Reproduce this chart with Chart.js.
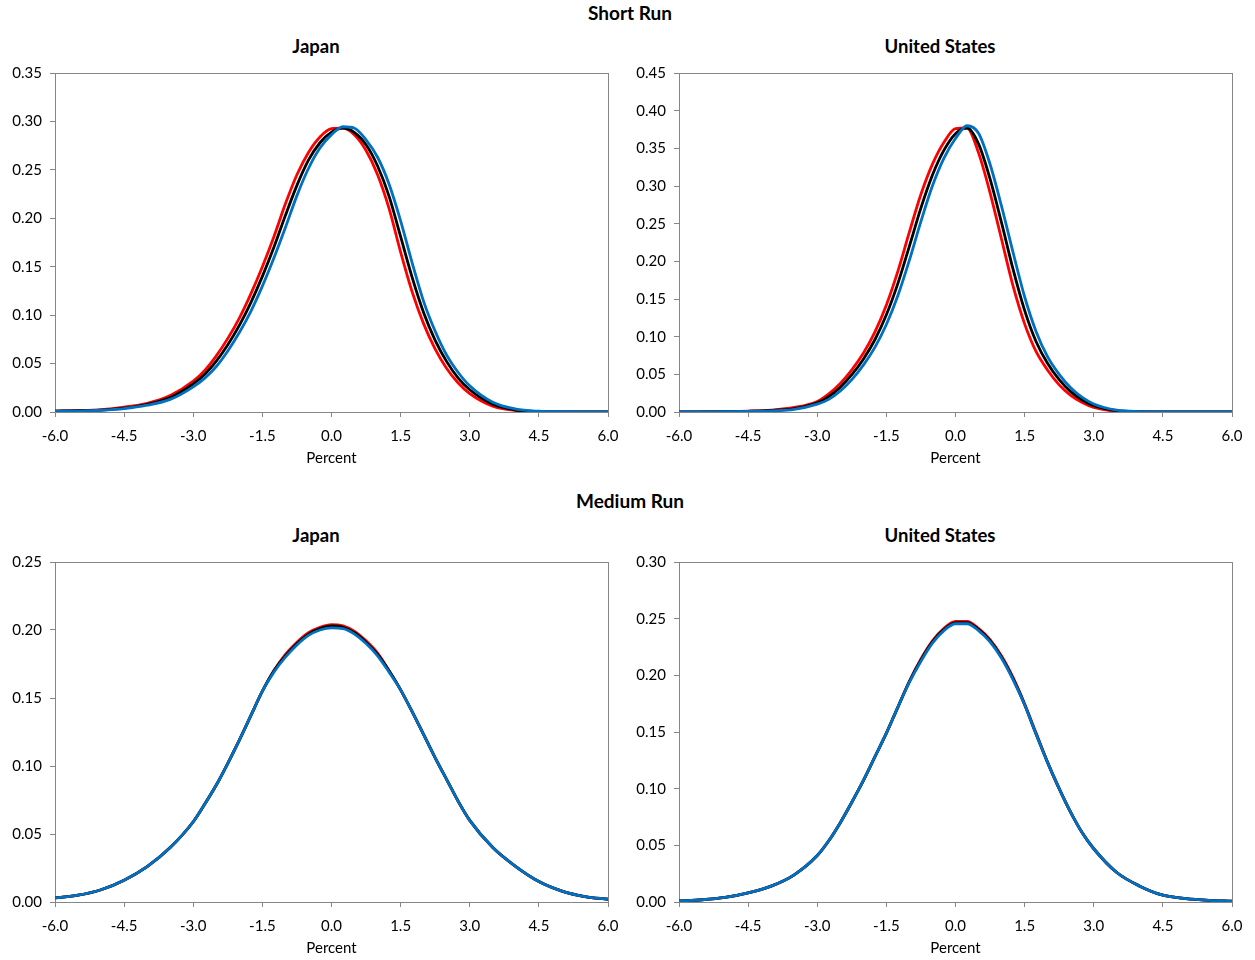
<!DOCTYPE html>
<html>
<head>
<meta charset="utf-8">
<script src="https://cdn.jsdelivr.net/npm/chart.js@4.4.0/dist/chart.umd.min.js"></script>
<style>
    body { margin: 0; background: #fff; }
    #page { position: relative; width: 1255px; height: 960px; overflow: hidden; font-family: Lato, "Open Sans", sans-serif; color: #000; }
    .heading { position: absolute; font-weight: bold; white-space: nowrap; transform: translateX(-50%); line-height: 22px; }
    .section { font-size: 19px; }
    .country { font-size: 18.5px; }
    canvas { position: absolute; }
</style>
</head>
<body>
<div id="page"></div>
<script>
    'use strict';

    // x positions (percent) shared by every curve
    const xGrid = [-6, -5.5, -5, -4.5, -4, -3.5, -3, -2.75, -2.5, -2.25, -2, -1.75, -1.5, -1.25, -1, -0.75, -0.5, -0.25,
        0, 0.25, 0.5, 0.75, 1, 1.25, 1.5, 1.75, 2, 2.25, 2.5, 2.75, 3, 3.5, 4, 4.5, 5, 5.5, 6];

    // Short run, Japan
    const srJapanRed = [0.001, 0.0015, 0.0025, 0.005, 0.009, 0.017, 0.032, 0.043, 0.058, 0.076, 0.097, 0.122, 0.150, 0.181, 0.215, 0.245, 0.268, 0.284,
        0.2925, 0.293, 0.286, 0.270, 0.245, 0.210, 0.165, 0.124, 0.091, 0.065, 0.045, 0.030, 0.019, 0.006, 0.0015, 0.0003, 0, 0, 0];
    const srJapanBlack = [0.001, 0.0013, 0.002, 0.004, 0.008, 0.015, 0.029, 0.039, 0.0526, 0.0695, 0.0894, 0.113, 0.140, 0.170, 0.203, 0.234, 0.260, 0.278,
        0.289, 0.293, 0.2885, 0.276, 0.254, 0.2226, 0.181, 0.139, 0.1025, 0.074, 0.052, 0.035, 0.023, 0.008, 0.002, 0.0005, 0.0001, 0, 0];
    const srJapanBlue = [0.0008, 0.001, 0.0018, 0.0035, 0.007, 0.013, 0.026, 0.035, 0.047, 0.063, 0.082, 0.104, 0.130, 0.159, 0.1905, 0.2234, 0.2514, 0.2725,
        0.2864, 0.2945, 0.293, 0.281, 0.263, 0.2352, 0.1974, 0.154, 0.114, 0.0834, 0.0587, 0.0408, 0.027, 0.010, 0.003, 0.0008, 0.0003, 0.0001, 0];

    // Short run, United States
    const srUSRed = [0, 0.0003, 0.0006, 0.0012, 0.0025, 0.006, 0.014, 0.024, 0.038, 0.056, 0.078, 0.106, 0.142, 0.187, 0.239, 0.289, 0.329, 0.358,
        0.376, 0.377, 0.344, 0.291, 0.229, 0.167, 0.117, 0.080, 0.0555, 0.036, 0.022, 0.0125, 0.006, 0.001, 0.0002, 0, 0, 0, 0];
    const srUSBlack = [0, 0.0002, 0.0004, 0.0009, 0.002, 0.0045, 0.0122, 0.0204, 0.033, 0.0495, 0.0701, 0.0959, 0.129, 0.1708, 0.2203, 0.271, 0.3146, 0.3476,
        0.3695, 0.377, 0.3559, 0.3094, 0.251, 0.1893, 0.135, 0.0933, 0.0643, 0.043, 0.027, 0.0159, 0.0083, 0.0018, 0.0004, 0.0001, 0, 0, 0];
    const srUSBlue = [0, 0.0002, 0.0003, 0.0007, 0.0015, 0.0035, 0.0104, 0.0168, 0.0279, 0.043, 0.0622, 0.0858, 0.1161, 0.1546, 0.2016, 0.253, 0.3002, 0.3371,
        0.363, 0.380, 0.370, 0.3289, 0.2729, 0.2116, 0.153, 0.1066, 0.0731, 0.050, 0.0321, 0.0193, 0.0107, 0.0025, 0.0006, 0.0002, 0, 0, 0];

    // Medium run, Japan
    const mrJapanRed = [0.003, 0.005, 0.009, 0.016, 0.026, 0.040, 0.059, 0.072, 0.086, 0.102, 0.119, 0.137, 0.155, 0.170, 0.182, 0.191, 0.198, 0.202,
        0.204, 0.203, 0.199, 0.192, 0.183, 0.170, 0.156, 0.140, 0.123, 0.106, 0.090, 0.074, 0.060, 0.040, 0.026, 0.015, 0.008, 0.004, 0.002];
    const mrJapanBlack = [0.003, 0.005, 0.009, 0.016, 0.026, 0.040, 0.059, 0.072, 0.086, 0.102, 0.119, 0.137, 0.155, 0.170, 0.181, 0.190, 0.197, 0.201,
        0.203, 0.202, 0.198, 0.191, 0.182, 0.170, 0.156, 0.140, 0.123, 0.106, 0.090, 0.074, 0.060, 0.040, 0.026, 0.015, 0.008, 0.004, 0.002];
    const mrJapanBlue = [0.003, 0.005, 0.009, 0.016, 0.026, 0.040, 0.059, 0.072, 0.086, 0.102, 0.119, 0.137, 0.155, 0.169, 0.180, 0.189, 0.196, 0.200,
        0.2015, 0.201, 0.197, 0.190, 0.181, 0.169, 0.156, 0.140, 0.123, 0.106, 0.090, 0.074, 0.060, 0.040, 0.026, 0.015, 0.008, 0.004, 0.002];

    // Medium run, United States
    const mrUSRed = [0.001, 0.002, 0.004, 0.008, 0.014, 0.024, 0.041, 0.054, 0.070, 0.088, 0.107, 0.128, 0.149, 0.172, 0.195, 0.2145, 0.2305, 0.2415,
        0.2475, 0.2475, 0.2415, 0.2315, 0.217, 0.198, 0.175, 0.149, 0.123, 0.100, 0.079, 0.061, 0.047, 0.026, 0.014, 0.006, 0.003, 0.0015, 0.0008];
    const mrUSBlack = [0.001, 0.002, 0.004, 0.008, 0.014, 0.024, 0.041, 0.054, 0.070, 0.088, 0.107, 0.128, 0.149, 0.172, 0.1945, 0.2135, 0.2295, 0.2405,
        0.2465, 0.2465, 0.2405, 0.2305, 0.216, 0.197, 0.174, 0.148, 0.123, 0.100, 0.079, 0.061, 0.047, 0.026, 0.014, 0.006, 0.003, 0.0015, 0.0008];
    const mrUSBlue = [0.001, 0.002, 0.004, 0.008, 0.014, 0.024, 0.041, 0.054, 0.070, 0.088, 0.107, 0.128, 0.149, 0.172, 0.194, 0.2125, 0.2285, 0.2395,
        0.2455, 0.2455, 0.2395, 0.2295, 0.215, 0.196, 0.174, 0.148, 0.123, 0.100, 0.079, 0.061, 0.047, 0.026, 0.014, 0.006, 0.003, 0.0015, 0.0008];

    // axis ranges and tick steps
    const xMin = -6;
    const xMax = 6;
    const xStep = 1.5;
    const yStep = 0.05;
    const yMaxes = [0.35, 0.45, 0.25, 0.30];

    const sectionTitles = ['Short Run', 'Medium Run'];
    const countryNames = ['Japan', 'United States'];
    const xAxisTitle = 'Percent';

    const DensityPanels = {
        fontFamily: 'Lato, "Open Sans", sans-serif',
        axisColor: '#868686',

        init: function() {
            this.page = document.getElementById('page');
            this.addHeadings();

            const series = [
                [srJapanRed, srJapanBlack, srJapanBlue],
                [srUSRed, srUSBlack, srUSBlue],
                [mrJapanRed, mrJapanBlack, mrJapanBlue],
                [mrUSRed, mrUSBlack, mrUSBlue]
            ];
            // canvas left, top and height for the four panels
            const spots = [[10, 56, 416], [634, 56, 416], [10, 545, 417], [634, 545, 417]];
            series.forEach((set, i) => {
                this.buildPanel(spots[i], set, yMaxes[i]);
            });
        },

        addHeadings: function() {
            const place = (text, cls, x, y) => {
                const el = document.createElement('div');
                el.className = 'heading ' + cls;
                el.textContent = text;
                el.style.left = x + 'px';
                el.style.top = y + 'px';
                this.page.appendChild(el);
            };
            place(sectionTitles[0], 'section', 630, 2);
            place(sectionTitles[1], 'section', 630, 490);
            place(countryNames[0], 'country', 316, 35);
            place(countryNames[1], 'country', 940, 35);
            place(countryNames[0], 'country', 316, 524);
            place(countryNames[1], 'country', 940, 524);
        },

        buildPanel: function(spot, set, yMax) {
            const canvas = document.createElement('canvas');
            canvas.width = 620;
            canvas.height = spot[2];
            canvas.style.left = spot[0] + 'px';
            canvas.style.top = spot[1] + 'px';
            this.page.appendChild(canvas);

            const colors = ['#ff0000', '#000000', '#0070c0'];
            const tickFont = { family: this.fontFamily, size: 15 };

            // grey box round the plot area, as in the spreadsheet original
            const plotFrame = {
                id: 'plotFrame',
                beforeDatasetsDraw: (chart) => {
                    const { ctx, chartArea: a } = chart;
                    ctx.save();
                    ctx.strokeStyle = this.axisColor;
                    ctx.lineWidth = 1;
                    ctx.strokeRect(Math.round(a.left) + 0.5, Math.round(a.top) + 0.5,
                        Math.round(a.right - a.left), Math.round(a.bottom - a.top));
                    ctx.restore();
                }
            };

            new Chart(canvas.getContext('2d'), {
                type: 'line',
                data: {
                    datasets: set.map((values, k) => ({
                        data: xGrid.map((x, j) => ({ x: x, y: values[j] })),
                        borderColor: colors[k],
                        borderWidth: 2.8,
                        pointRadius: 0,
                        fill: false,
                        cubicInterpolationMode: 'monotone',
                        order: 3 - k
                    }))
                },
                options: {
                    responsive: false,
                    animation: false,
                    devicePixelRatio: 1,
                    layout: { padding: { top: 0, right: 22, bottom: 0, left: 0 } },
                    plugins: {
                        legend: { display: false },
                        tooltip: { enabled: false }
                    },
                    scales: {
                        x: {
                            type: 'linear',
                            min: xMin,
                            max: xMax,
                            afterFit: (scale) => { scale.height = 60; },
                            ticks: {
                                stepSize: xStep,
                                autoSkip: false,
                                maxRotation: 0,
                                padding: 10,
                                color: '#000',
                                font: tickFont,
                                callback: (v) => Number(v).toFixed(1)
                            },
                            grid: { drawOnChartArea: false, drawTicks: true, tickLength: 5, color: this.axisColor },
                            border: { display: true, color: this.axisColor },
                            title: {
                                display: true,
                                text: xAxisTitle,
                                color: '#000',
                                font: tickFont,
                                padding: { top: 0, bottom: 5 }
                            }
                        },
                        y: {
                            min: 0,
                            max: yMax,
                            afterFit: (scale) => { scale.width = 45; },
                            ticks: {
                                stepSize: yStep,
                                padding: 8,
                                color: '#000',
                                font: tickFont,
                                callback: (v) => Number(v).toFixed(2)
                            },
                            grid: { drawOnChartArea: false, drawTicks: true, tickLength: 5, color: this.axisColor },
                            border: { display: true, color: this.axisColor }
                        }
                    }
                },
                plugins: [plotFrame]
            });
        }
    };

    DensityPanels.init();
</script>
</body>
</html>
